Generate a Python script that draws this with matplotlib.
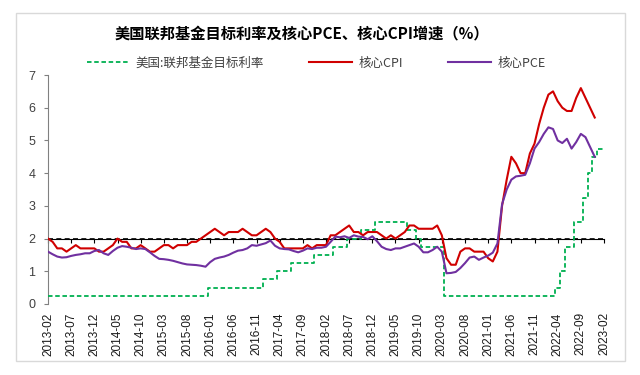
import matplotlib
matplotlib.use('Agg')
import matplotlib.pyplot as plt
from matplotlib.patches import Rectangle
import numpy as np
import pandas as pd

# monthly categories 2013-02 .. 2023-02
months = pd.period_range('2013-02', '2023-02', freq='M').strftime('%Y-%m').tolist()
tick_labels = months[::5]

# US fed funds target rate (upper bound), monthly
fed_rate = ([0.25] * 35 + [0.5] * 12 + [0.75] * 3 + [1.0] * 3 + [1.25] * 5 +
            [1.5] * 4 + [1.75] * 3 + [2.0] * 3 + [2.25] * 3 + [2.5] * 7 +
            [2.25] * 2 + [2.0] * 1 + [1.75] * 5 + [0.25] * 24 + [0.5] * 1 +
            [1.0] * 1 + [1.75] * 2 + [2.5] * 2 + [3.25] * 1 + [4.0] * 1 +
            [4.5] * 1 + [4.75] * 2)

# core CPI yoy, 2013-02 .. 2022-12
core_cpi = [2.0, 1.9, 1.7, 1.7, 1.6, 1.7, 1.8, 1.7, 1.7, 1.7, 1.7,
            1.6, 1.6, 1.7, 1.8, 2.0, 1.9, 1.9, 1.7, 1.7, 1.8, 1.7, 1.6,
            1.6, 1.7, 1.8, 1.8, 1.7, 1.8, 1.8, 1.8, 1.9, 1.9, 2.0, 2.1,
            2.2, 2.3, 2.2, 2.1, 2.2, 2.2, 2.2, 2.3, 2.2, 2.1, 2.1, 2.2,
            2.3, 2.2, 2.0, 1.9, 1.7, 1.7, 1.7, 1.7, 1.7, 1.8, 1.7, 1.8,
            1.8, 1.8, 2.1, 2.1, 2.2, 2.3, 2.4, 2.2, 2.2, 2.1, 2.2, 2.2,
            2.2, 2.1, 2.0, 2.1, 2.0, 2.1, 2.2, 2.4, 2.4, 2.3, 2.3, 2.3,
            2.3, 2.4, 2.1, 1.4, 1.2, 1.2, 1.6, 1.7, 1.7, 1.6, 1.6, 1.6,
            1.4, 1.3, 1.6, 3.0, 3.8, 4.5, 4.3, 4.0, 4.0, 4.6, 4.9, 5.5,
            6.0, 6.4, 6.5, 6.2, 6.0, 5.9, 5.9, 6.3, 6.6, 6.3, 6.0, 5.7]

# core PCE yoy, 2013-02 .. 2022-12
core_pce = [1.60, 1.52, 1.45, 1.42, 1.43, 1.47, 1.50, 1.52, 1.55, 1.55, 1.62,
            1.65, 1.55, 1.50, 1.62, 1.72, 1.77, 1.75, 1.72, 1.68, 1.70, 1.68, 1.58,
            1.47, 1.38, 1.37, 1.35, 1.32, 1.28, 1.24, 1.21, 1.20, 1.19, 1.17, 1.14,
            1.28, 1.38, 1.42, 1.45, 1.50, 1.57, 1.63, 1.65, 1.70, 1.80, 1.78, 1.82,
            1.86, 1.94, 1.78, 1.70, 1.68, 1.67, 1.62, 1.58, 1.63, 1.70, 1.68, 1.72,
            1.72, 1.75, 1.90, 2.06, 2.04, 2.07, 2.02, 2.10, 2.06, 2.05, 1.98, 2.07,
            1.92, 1.75, 1.68, 1.65, 1.70, 1.70, 1.75, 1.80, 1.85, 1.75, 1.58, 1.58,
            1.65, 1.75, 1.60, 0.94, 0.95, 0.98, 1.10, 1.25, 1.42, 1.45, 1.35, 1.42,
            1.48, 1.57, 1.85, 3.05, 3.50, 3.80, 3.90, 3.92, 3.95, 4.30, 4.75, 4.95,
            5.20, 5.40, 5.35, 5.00, 4.92, 5.05, 4.75, 4.95, 5.20, 5.10, 4.80, 4.50]

cjk = ['Noto Sans CJK SC', 'DejaVu Sans']
plt.rcParams['font.family'] = ['Liberation Sans', 'Noto Sans CJK SC']

fig = plt.figure(figsize=(6.4, 3.75), dpi=100)
ax = fig.add_axes([48 / 640, 71 / 375, 556 / 640, 229 / 375])

x = np.arange(len(months))
ax.plot(x, fed_rate, color='#00B050', lw=1.3, ls=(0, (2.5, 1.5)),
        drawstyle='steps-mid', label='美国:联邦基金目标利率', zorder=3)
ax.plot(x[:len(core_cpi)], core_cpi, color='#D00000', lw=1.5, label='核心CPI', zorder=4)
ax.plot(x[:len(core_pce)], core_pce, color='#7030A0', lw=1.5, label='核心PCE', zorder=5)

# dashed reference at 2%
ax.axhline(2, color='black', lw=1.2, ls=(0, (3, 2)), zorder=2)

ax.set_xlim(0, len(months) - 1)
ax.set_ylim(0, 7)

for s in ['top', 'right', 'bottom']:
    ax.spines[s].set_visible(False)
ax.spines['left'].set_color('#808080')

ax.set_xticks(x[::5], labels=tick_labels, rotation=90, fontsize=8.5)
ax.tick_params(axis='x', length=0, pad=6, labelcolor='#1a1a1a')
ax.set_yticks(range(8))
ax.tick_params(axis='y', direction='out', length=3, pad=6, labelsize=9,
               labelcolor='#404040', color='#808080')

# category axis crossing at y = 2
sec = ax.secondary_xaxis(2 / 7)
sec.set_xticks(x[::5])
sec.tick_params(direction='out', length=3, color='black', width=0.8, labelbottom=False)
sec.spines['bottom'].set_color('black')
sec.spines['bottom'].set_linewidth(0.8)

fig.legend(loc='center', bbox_to_anchor=(0.494, 0.832), ncol=3, frameon=False,
           prop={'family': cjk, 'size': 9}, handlelength=3.4, handletextpad=0.55,
           columnspacing=3.6, labelcolor='#404040')

fig.text(0.472, 0.912, '美国联邦基金目标利率及核心PCE、核心CPI增速（%）', ha='center', va='center',
         fontsize=11, fontweight='bold', family=cjk)

fig.add_artist(Rectangle((16 / 640, 14 / 375), 609 / 640, 348 / 375, transform=fig.transFigure,
                         fill=False, ec='#D9D9D9', lw=1))

plt.savefig('out.png', dpi=100)
